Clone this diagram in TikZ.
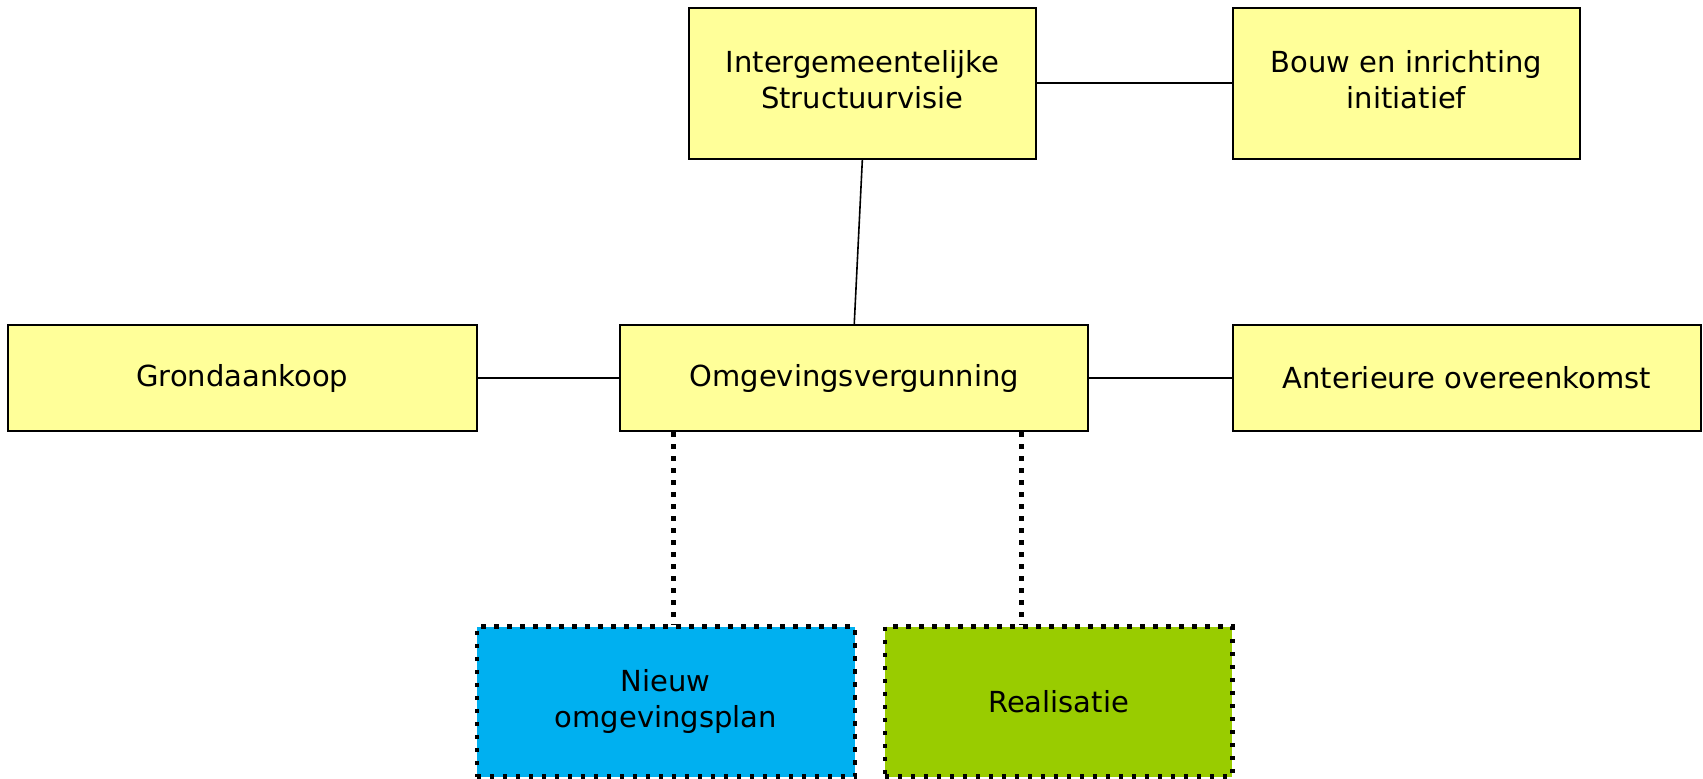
\documentclass[tikz,border=0pt]{standalone}
\usepackage{fontspec}
\setmainfont{DejaVu Sans}
\definecolor{boxyellow}{HTML}{FFFF99}
\definecolor{boxblue}{HTML}{00B0F0}
\definecolor{boxgreen}{HTML}{99CC00}
\begin{document}
\begin{tikzpicture}[x=1pt,y=-1pt,
  every node/.style={font=\fontsize{29}{36}\selectfont, align=center, inner sep=0pt},
  ybox/.style={draw=black, line width=2pt, fill=boxyellow, rectangle},
  dbox/.style={draw=black, line width=4.5pt, dash pattern=on 4.5pt off 8.5pt, rectangle},
  link/.style={draw=black, line width=1.6pt},
  dotlink/.style={draw=black, line width=5pt, dash pattern=on 5pt off 7pt},
  upshift/.style={text depth=8pt}]
\useasboundingbox (0,0) rectangle (1703,779);
\node[ybox, minimum width=347.5pt, minimum height=151pt, upshift] (isv) at (862.35,83.1) {Intergemeentelijke\\Structuurvisie};
\node[ybox, minimum width=347.5pt, minimum height=151pt, upshift] (bouw) at (1406.5,83.1) {Bouw en inrichting\\initiatief};
\node[ybox, minimum width=469pt, minimum height=106.5pt] (grond) at (242.2,378) {Grondaankoop};
\node[ybox, minimum width=468pt, minimum height=106.5pt] (omg) at (854.25,378) {Omgevingsvergunning};
\node[ybox, minimum width=468pt, minimum height=106.5pt] (ant) at (1466.75,378) {Anterieure overeenkomst};
\node[dbox, fill=boxblue, minimum width=378pt, minimum height=150pt] (nieuw) at (665.8,701.7) {Nieuw\\omgevingsplan};
\node[dbox, fill=boxgreen, minimum width=347.5pt, minimum height=150pt] (real) at (1058.5,701.7) {Realisatie};
\coordinate (d1) at (673.3,0);
\coordinate (d2) at (1021.3,0);
\draw[link] (isv.east) -- (bouw.west);
\draw[link] (isv.south) -- (omg.north);
\draw[link] (grond.east) -- (omg.west);
\draw[link] (omg.east) -- (ant.west);
\draw[dotlink] (omg.south -| d1) -- (nieuw.north -| d1);
\draw[dotlink] (omg.south -| d2) -- (real.north -| d2);
\end{tikzpicture}
\end{document}
